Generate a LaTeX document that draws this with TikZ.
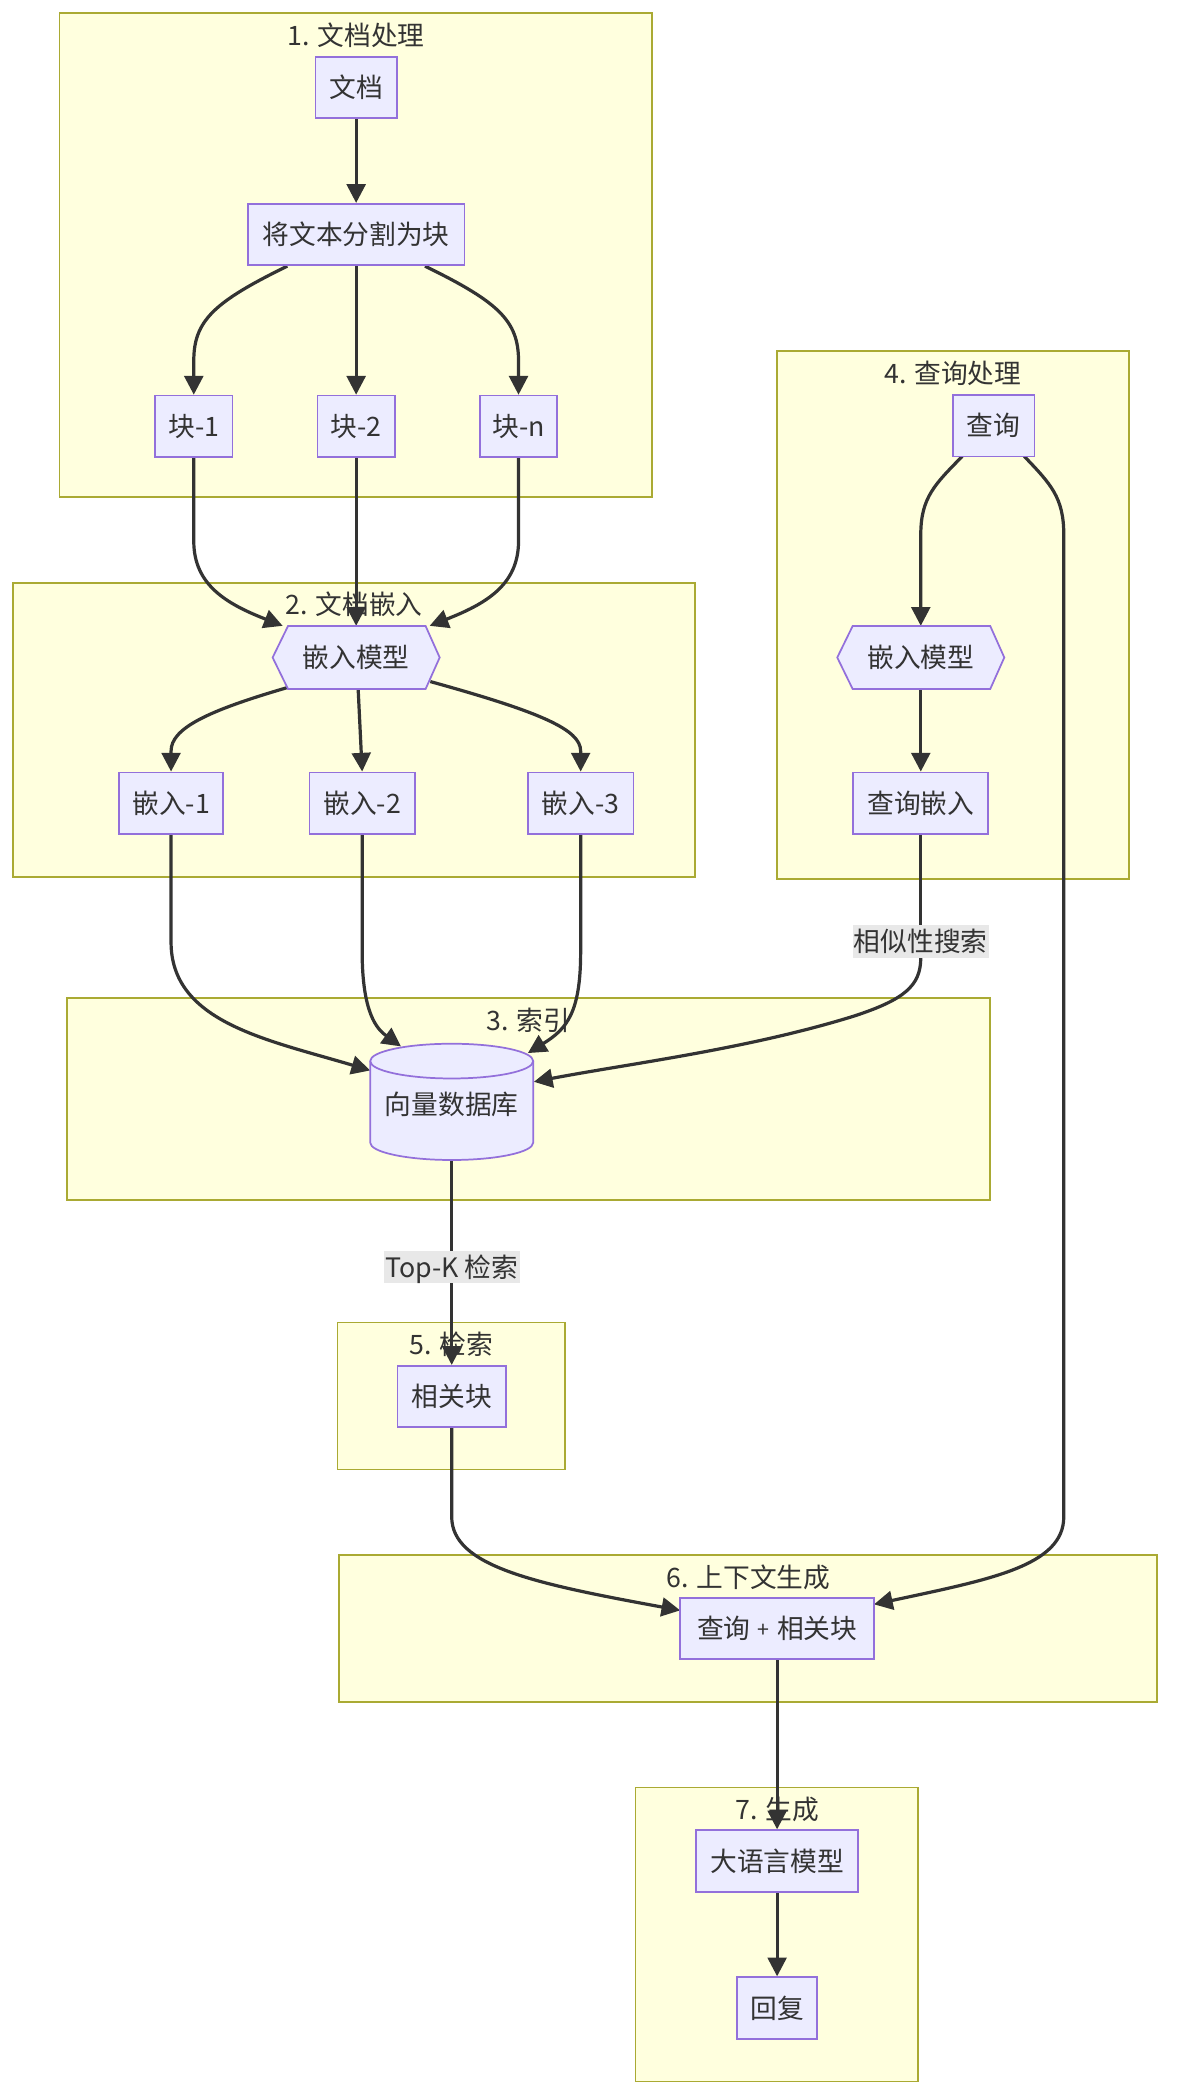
\documentclass[tikz,border=0pt]{standalone}
\usepackage{fontspec}
\newfontfamily\cjk{Noto Sans CJK SC}
\usetikzlibrary{arrows.meta,calc}
\definecolor{clfill}{HTML}{FFFFDE}
\definecolor{clline}{HTML}{AAAA33}
\definecolor{ndfill}{HTML}{ECECFF}
\definecolor{ndline}{HTML}{9370DB}
\definecolor{edgec}{HTML}{333333}
\definecolor{txtc}{HTML}{333333}
\definecolor{lblbg}{HTML}{E8E8E8}
\pgfdeclarelayer{bg}
\pgfdeclarelayer{edges}
\pgfsetlayers{bg,edges,main}
\begin{document}
\begin{tikzpicture}[x=1pt,y=-1pt,
  every node/.style={font=\cjk\fontsize{20}{24}\selectfont, text=txtc, text height=16.6pt, text depth=1.4pt},
  box/.style={draw=ndline, fill=ndfill, line width=1.3pt, inner sep=0pt, minimum height=46},
  holder/.style={inner sep=0pt, minimum height=47},
  cluster/.style={draw=clline, fill=clfill, line width=1.3pt},
  ctitle/.style={inner sep=0pt},
  edge/.style={draw=edgec, line width=2.4pt, -{Triangle[length=14pt,width=14pt]}},
  plainedge/.style={draw=edgec, line width=2.4pt},
  elabel/.style={fill=lblbg, inner xsep=1pt, inner ysep=3pt},
  shapeline/.style={draw=ndline, fill=ndfill, line width=1.3pt}
]
\useasboundingbox (0,0) rectangle (880,1571.4);

% ---------- nodes ----------
\node[box, minimum width=61] (doc) at (266.5,65.5) {文档};
\node[box, minimum width=162] (split) at (266.5,175.5) {将文本分割为块};
\node[box, minimum width=58] (k1) at (145,319) {块-1};
\node[box, minimum width=58] (k2) at (266.5,319) {块-2};
\node[box, minimum width=58] (kn) at (388,319) {块-n};

\path[shapeline] (204,492) -- (215.5,468.5) -- (318.5,468.5) -- (329,492) -- (318.5,515.5) -- (215.5,515.5) -- cycle;
\node[holder, minimum width=125] (hex1) at (266.5,492) {嵌入模型};

\node[box, minimum width=78] (e1) at (128,601) {嵌入-1};
\node[box, minimum width=79] (e2) at (271,601) {嵌入-2};
\node[box, minimum width=79] (e3) at (434.5,601) {嵌入-3};

\node[box, minimum width=61] (q) at (743.5,318.5) {查询};
\path[shapeline] (626.5,492) -- (638,468.5) -- (741,468.5) -- (751.5,492) -- (741,515.5) -- (638,515.5) -- cycle;
\node[holder, minimum width=125] (hex2) at (689,492) {嵌入模型};
\node[box, minimum width=101] (qe) at (689,601) {查询嵌入};

\path[shapeline] (277,794) -- (277,855) arc[start angle=180, end angle=360, x radius=61pt, y radius=13pt]
   -- (399,794) arc[start angle=0, end angle=180, x radius=61pt, y radius=13pt] -- cycle;
\draw[ndline, line width=1.3pt] (277,794) arc[start angle=180, end angle=360, x radius=61pt, y radius=13pt];
\node[holder, minimum width=122, minimum height=87] (db) at (338,824.5) {\raisebox{-2pt}{向量数据库}};

\node[box, minimum width=145] (rel) at (338,1045) [minimum width=81] {相关块};
\node[box, minimum width=145] (qr) at (581.5,1218.5) {查询\hspace{5pt}\raisebox{1pt}{\fontsize{16}{16}\selectfont +}\hspace{6pt}相关块};
\node[box, minimum width=121] (llm) at (581.5,1392.5) {大语言模型};
\node[box, minimum width=60] (reply) at (581.5,1502.5) {回复};

\node[elabel] (lab1) at (689,704.5) {相似性搜索};
\node[elabel] (lab2) at (338,948) {Top-K 检索};

% ---------- clusters ----------
\begin{pgfonlayer}{bg}
\fill[white] (0,0) rectangle (880,1571.4);
\draw[cluster] (44.5,10) rectangle (488,372);
\node[ctitle] (t1) at (266.5,26.5) {1. 文档处理};
\draw[cluster] (10,436) rectangle (520,656.5);
\node[ctitle] (t2) at (265,452.5) {2. 文档嵌入};
\draw[cluster] (50,747) rectangle (741,898);
\node[ctitle] (t3) at (395.5,763.5) {3. 索引};
\draw[cluster] (581.5,262.5) rectangle (845,657.5);
\node[ctitle] (t4) at (713,279) {4. 查询处理};
\draw[cluster] (252.5,989.5) rectangle (423,1099.5);
\node[ctitle] (t5) at (337.5,1006) {5. 检索};
\draw[cluster] (253.5,1163.5) rectangle (866,1273.5);
\node[ctitle] (t6) at (560,1180) {6. 上下文生成};
\draw[cluster] (475.5,1337.5) rectangle (687,1557.5);
\node[ctitle] (t7) at (581.5,1354) {7. 生成};
\end{pgfonlayer}

% ---------- edges ----------
\begin{pgfonlayer}{edges}
\draw[edge] (doc.south) -- (split.north);
\draw[edge] ($(split.south)+(-51.5,0)$) .. controls (160,226) and (145,240) .. (145,270) -- (k1.north);
\draw[edge] (split.south) -- (k2.north);
\draw[edge] ($(split.south)+(51.5,0)$) .. controls (373,226) and (388,240) .. (388,270) -- (kn.north);

\draw[edge] (k1.south) -- (145,405) .. controls (145,438) and (170,452) .. ($(hex1.north)+(-55,0)$);
\draw[edge] (k2.south) -- (hex1.north);
\draw[edge] (kn.south) -- (388,405) .. controls (388,438) and (363,452) .. ($(hex1.north)+(55,0)$);

\draw[edge] ($(hex1.center)+(-51.5,22.5)$) .. controls (155,532) and (128,545) .. (128,562) -- (e1.north);
\draw[edge] ($(hex1.center)+(1.5,23.5)$) -- (e2.north);
\draw[edge] ($(hex1.center)+(55.5,18)$) .. controls (405,533) and (434.5,546) .. (434.5,562) -- (e3.north);

\draw[edge] (e1.south) -- (128,705) .. controls (128,765) and (200,778) .. ($(db.center)+(-61,-23.5)$);
\draw[edge] (e2.south) -- (271,712) .. controls (271,758) and (282,770) .. ($(db.center)+(-38,-41.5)$);
\draw[edge] (e3.south) -- (434.5,712) .. controls (434.5,758) and (424,770) .. ($(db.center)+(57,-36.5)$);

\draw[plainedge] (qe.south) -- (lab1.north);
\draw[edge] (lab1.south) .. controls (689,738) and (676,748) .. (640,760) .. controls (560,785) and (470,796) .. ($(db.center)+(61.5,-15)$);

\draw[edge] ($(q.center)+(-23.5,23)$) .. controls (700,362) and (689,372) .. (689,400) -- (hex2.north);
\draw[edge] ($(q.center)+(23,23)$) .. controls (786,362) and (796,372) .. (796,400) -- (796,1135) .. controls (796,1172) and (740,1182) .. ($(qr.center)+(72.5,-18)$);
\draw[edge] (hex2.south) -- (qe.north);

\draw[plainedge] (db.south) -- (lab2.north);
\draw[edge] (lab2.south) -- (rel.north);
\draw[edge] (rel.south) -- (338,1135) .. controls (338,1172) and (400,1185) .. ($(qr.center)+(-72.5,-13.5)$);

\draw[edge] (qr.south) -- (llm.north);
\draw[edge] (llm.south) -- (reply.north);
\end{pgfonlayer}
\end{tikzpicture}
\end{document}
